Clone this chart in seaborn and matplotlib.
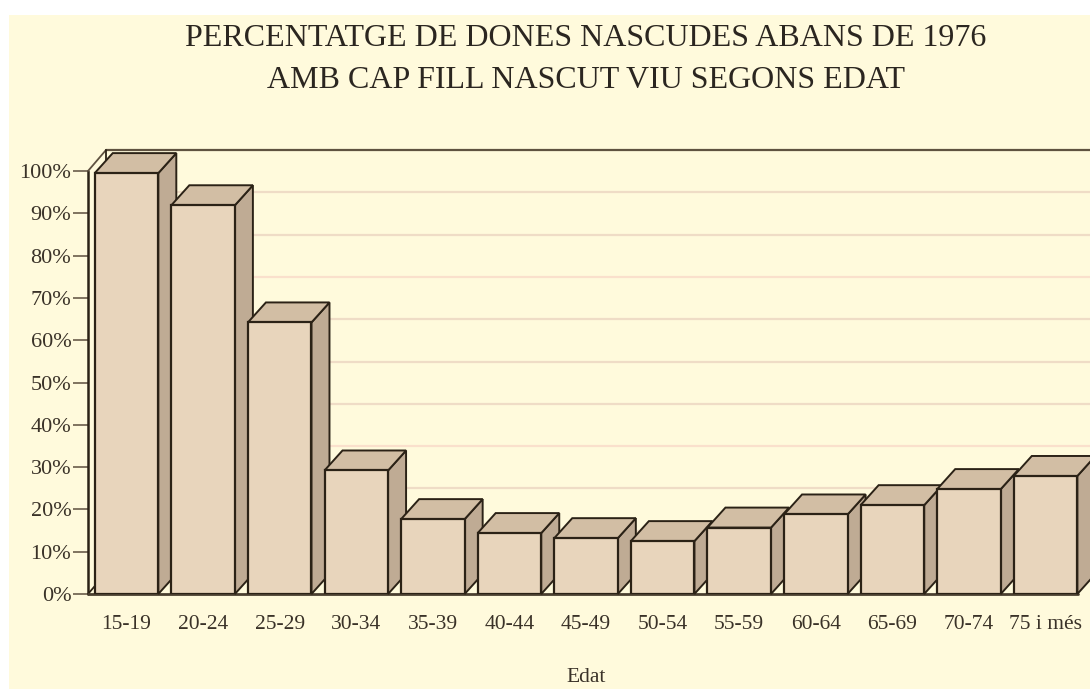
import pandas as pd
import matplotlib
matplotlib.use("Agg")
import matplotlib.pyplot as plt
import matplotlib.transforms as mtrans
from matplotlib.patches import Polygon, Rectangle
import seaborn as sns

ages = ['15-19', '20-24', '25-29', '30-34', '35-39', '40-44', '45-49',
        '50-54', '55-59', '60-64', '65-69', '70-74', '75 i més']
pct = [99.5, 91.9, 64.2, 29.2, 17.7, 14.4, 13.2, 12.5, 15.7, 18.8, 21.0, 24.8, 27.9]
y_ticks = [0, 10, 20, 30, 40, 50, 60, 70, 80, 90, 100]
grid_colors = ['#efdcc6', '#efdcc6', '#efdcc6', '#fae0cc', '#efdcc6', '#efdcc6',
               '#efdcc6', '#fae0cc', '#efdcc6', '#efdcc6', '#5f5240']

BG = '#fffadc'
FACE = '#e8d5bc'
TOP = '#d2bea4'
SIDE = '#bfab94'
EDGE = '#2b2216'

W, H = 1090, 689
sns.set_theme(style='white')
plt.rcParams['font.family'] = ['Liberation Serif', 'DejaVu Serif']

fig = plt.figure(figsize=(W / 100, H / 100), dpi=100, facecolor='white')
bg = Rectangle((9 / W, 0), 1, 674 / H, transform=fig.transFigure,
               facecolor=BG, edgecolor='none', zorder=-1)
fig.add_artist(bg)

# axes box in pixels: 0% at y=594, 100% at y=171, left wall at x=88
ax = fig.add_axes([88 / W, (H - 594) / H, (W - 88) / W, 423 / H])
ax.patch.set_alpha(0)
df = pd.DataFrame({'edat': ages, 'pct': pct})
sns.barplot(data=df, x='edat', y='pct', color=FACE, saturation=1, width=0.83,
            edgecolor=EDGE, linewidth=1.6, ax=ax, zorder=5)
ax.set_xlim(-0.503, 12.58)
ax.set_ylim(0, 100)
for s in ax.spines.values():
    s.set_visible(False)

pixels = mtrans.IdentityTransform()
to_px = ax.transData


def px_line(xs, ys, color, lw, z):
    ax.plot(xs, ys, color=color, lw=lw, transform=pixels, clip_on=False, zorder=z)


# back wall lines
x0, y0 = to_px.transform((-0.503, 0))
x1, y1 = to_px.transform((-0.503, 100))
for v, c in zip(y_ticks[1:], grid_colors[1:]):
    _, yv = to_px.transform((0, v))
    px_line([x0 + 18, W], [yv + 21, yv + 21], c, 1.6, 1)
px_line([x0, x0], [y0, y1], EDGE, 1.8, 2)
px_line([x0, x0 + 18], [y1, y1 + 21], '#5f5240', 1.3, 2)
px_line([x0 + 18, x0 + 18], [y0 + 21, y1 + 21], EDGE, 1.3, 2)
px_line([x0, x0 + 18], [y0, y0 + 21], EDGE, 1.3, 2)
px_line([x0, 1078], [y0, y0], '#4a3f30', 2, 3)

# depth faces built from the bars seaborn drew
dx, dy = 18, 20
for i, bar in enumerate(list(ax.patches)):
    (l, b), (r, t) = to_px.transform([(bar.get_x(), 0), (bar.get_x() + bar.get_width(), bar.get_height())])
    z = 5 + i * 0.1
    bar.set_zorder(z + 0.02)
    side = Polygon([(r, b), (r + dx, b + dy), (r + dx, t + dy), (r, t)], closed=True,
                   transform=pixels, facecolor=SIDE, edgecolor=EDGE, lw=1.4, zorder=z)
    top = Polygon([(l, t), (l + dx, t + dy), (r + dx, t + dy), (r, t)], closed=True,
                  transform=pixels, facecolor=TOP, edgecolor=EDGE, lw=1.4, zorder=z)
    ax.add_patch(side)
    ax.add_patch(top)
    side.set_clip_on(False)
    top.set_clip_on(False)

ax.set_xlim(-0.503, 12.58)
ax.set_ylim(0, 100)
ax.set_yticks(y_ticks)
ax.set_yticklabels([f'{v}%' for v in y_ticks], fontsize=16, color='#3a3228')
ax.tick_params(axis='y', length=11, width=1.2, color='#6a5c4a', pad=1, left=True)
ax.tick_params(axis='x', length=0, pad=15, labelsize=15.5, labelcolor='#3a3228')
ax.set_xlabel('')
ax.set_ylabel('')

fig.text(586 / W, 1 - 39 / H, 'PERCENTATGE DE DONES NASCUDES ABANS DE 1976',
         ha='center', va='center', fontsize=23, color='#2b2620')
fig.text(586 / W, 1 - 81 / H, 'AMB CAP FILL NASCUT VIU SEGONS EDAT',
         ha='center', va='center', fontsize=23, color='#2b2620')
fig.text(586 / W, 1 - 678 / H, 'Edat', ha='center', va='center', fontsize=15.5, color='#3a3228')

fig.savefig('out.png', dpi=100, facecolor='white')
